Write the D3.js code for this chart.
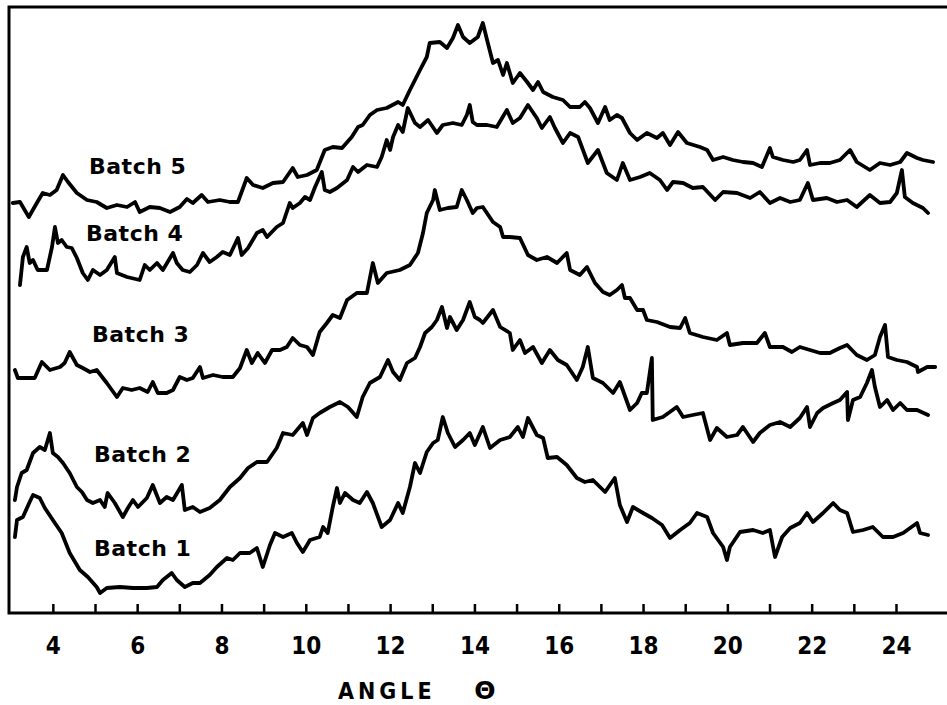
<!DOCTYPE html>
<html>
<head>
<meta charset="utf-8">
<script src="https://cdn.jsdelivr.net/npm/d3@7"></script>
<style>
  body { margin: 0; background: #fff; }
  svg { display: block; }
  .tick text { font-family: "DejaVu Sans Condensed", "DejaVu Sans", sans-serif; font-weight: bold; }
</style>
</head>
<body>
<div id="chart"></div>
<script>
// x ray diffraction traces, angle (theta) vs relative intensity (arbitrary units)
const majorTicks = [4, 6, 8, 10, 12, 14, 16, 18, 20, 22, 24];
const minorTicks = [5, 7, 9, 11, 13, 15, 17, 19, 21, 23];
const xTitle = "ANGLE";
const xSymbol = "Θ";
const batchNames = ["Batch 1", "Batch 2", "Batch 3", "Batch 4", "Batch 5"];

const batch5Angle = [3.05,3.22,3.43,3.62,3.76,3.93,4.09,4.24,4.36,4.57,4.81,5.04,5.28,5.52,5.76,5.95,6.06,6.30,6.54,6.78,7.01,7.18,7.32,7.53,7.68,7.96,8.20,8.39,8.60,8.75,8.98,9.22,9.46,9.69,9.81,10.03,10.26,10.45,10.64,10.86,11.09,11.24,11.35,11.52,11.69,11.92,12.19,12.30,12.47,12.59,12.71,12.87,12.94,13.18,13.35,13.49,13.61,13.73,13.89,14.08,14.20,14.30,14.44,14.56,14.68,14.77,14.91,15.08,15.25,15.39,15.51,15.63,15.86,16.10,16.27,16.50,16.62,16.74,16.93,17.10,17.21,17.38,17.50,17.69,17.86,18.09,18.33,18.47,18.64,18.83,19.04,19.35,19.52,19.66,19.90,20.13,20.37,20.61,20.82,21.01,21.08,21.32,21.56,21.72,21.89,21.96,22.20,22.43,22.67,22.91,23.07,23.38,23.62,23.86,24.10,24.26,24.50,24.64,24.88];
const batch5Intensity = [410,411,396,410,420,418,423,438,431,420,413,411,405,408,406,411,401,406,405,401,406,414,410,418,411,413,411,411,435,428,425,430,431,445,436,438,443,463,466,465,476,486,488,498,503,505,511,508,523,533,543,556,570,571,565,575,588,576,570,576,590,573,550,553,538,550,530,540,531,523,531,521,516,513,506,506,511,505,490,506,493,498,495,480,473,480,475,480,468,481,470,466,463,453,456,453,451,450,446,465,456,453,451,453,463,448,450,450,453,463,451,443,450,448,451,460,455,453,451];

const batch4Angle = [3.22,3.29,3.38,3.45,3.53,3.64,3.86,3.98,4.05,4.12,4.21,4.33,4.45,4.57,4.71,4.83,4.95,5.12,5.28,5.47,5.52,5.76,6.06,6.18,6.30,6.47,6.61,6.85,6.94,7.08,7.25,7.42,7.56,7.72,7.89,8.03,8.20,8.39,8.48,8.63,8.84,8.98,9.08,9.31,9.46,9.62,9.69,9.86,9.98,10.10,10.22,10.38,10.45,10.57,10.74,10.98,11.12,11.24,11.45,11.69,11.80,11.92,12.00,12.07,12.19,12.30,12.42,12.59,12.71,12.90,13.11,13.25,13.49,13.70,13.82,13.89,13.96,14.06,14.30,14.53,14.77,14.91,15.08,15.27,15.48,15.60,15.79,15.91,16.10,16.27,16.46,16.69,16.93,17.14,17.38,17.52,17.69,17.93,18.16,18.40,18.57,18.71,18.95,19.18,19.42,19.71,19.90,20.23,20.54,20.77,21.01,21.25,21.49,21.72,21.91,22.03,22.36,22.60,22.84,23.07,23.38,23.62,23.86,24.02,24.14,24.21,24.40,24.64,24.76];
const batch4Intensity = [328,356,366,350,353,343,343,366,386,370,373,366,365,355,340,333,343,338,343,356,340,336,333,348,343,350,343,360,350,343,341,348,360,351,356,361,358,375,358,365,380,383,376,386,390,410,405,410,416,413,426,441,423,421,425,433,446,441,448,446,456,473,463,476,488,481,505,490,486,493,480,488,490,488,498,508,491,488,488,486,503,490,495,508,495,485,496,485,470,480,476,450,463,440,433,450,433,436,440,433,423,431,430,425,426,413,421,420,415,421,410,415,411,413,430,413,415,411,413,406,418,410,411,420,443,416,410,405,400];

const batch3Angle = [3.10,3.17,3.38,3.57,3.74,3.93,4.17,4.28,4.40,4.57,4.71,4.88,5.04,5.28,5.52,5.66,5.87,6.06,6.25,6.37,6.49,6.70,6.85,7.01,7.18,7.32,7.49,7.56,7.80,8.03,8.27,8.44,8.60,8.72,8.86,9.03,9.20,9.39,9.55,9.69,9.86,10.03,10.17,10.33,10.50,10.64,10.81,10.98,11.21,11.45,11.59,11.71,11.92,12.23,12.47,12.66,12.78,12.87,13.02,13.06,13.18,13.37,13.58,13.70,13.82,13.96,14.06,14.20,14.44,14.61,14.68,14.84,15.08,15.27,15.48,15.72,15.96,16.19,16.27,16.50,16.67,16.86,17.05,17.21,17.38,17.50,17.57,17.69,17.86,18.00,18.09,18.33,18.64,18.88,19.00,19.11,19.42,19.75,19.99,20.06,20.37,20.70,20.89,21.01,21.32,21.53,21.72,21.96,22.20,22.43,22.67,22.84,23.07,23.31,23.50,23.62,23.74,23.81,24.02,24.26,24.50,24.52,24.74,24.93];
const batch3Intensity = [243,235,235,235,251,243,246,250,261,248,245,241,243,230,216,225,223,225,221,231,220,220,223,236,233,235,246,235,238,236,236,245,263,250,260,250,263,263,266,275,268,266,258,281,290,298,295,313,320,320,350,330,340,343,348,360,380,400,413,423,403,405,406,423,413,400,405,406,391,386,376,376,375,358,353,356,350,360,343,338,346,330,321,318,323,328,315,315,303,303,293,291,286,285,295,280,276,273,280,268,270,270,280,266,266,261,266,263,260,260,265,268,258,253,258,276,288,256,253,251,246,241,246,246];

const batch2Angle = [3.10,3.15,3.26,3.38,3.53,3.69,3.81,3.93,4.00,4.12,4.24,4.40,4.57,4.69,4.81,4.95,5.12,5.23,5.30,5.47,5.66,5.78,5.90,6.02,6.23,6.37,6.54,6.70,6.85,7.06,7.13,7.32,7.49,7.72,7.96,8.20,8.44,8.63,8.84,9.08,9.31,9.46,9.69,9.93,10.03,10.17,10.33,10.57,10.81,11.00,11.21,11.35,11.52,11.76,11.95,12.07,12.23,12.40,12.59,12.71,12.83,12.99,13.11,13.23,13.35,13.42,13.58,13.73,13.89,14.01,14.13,14.20,14.44,14.61,14.84,14.91,15.08,15.20,15.39,15.60,15.79,15.98,16.19,16.43,16.57,16.69,16.81,17.05,17.29,17.45,17.69,17.86,17.97,18.09,18.21,18.23,18.47,18.80,18.95,19.18,19.42,19.59,19.75,19.99,20.23,20.37,20.61,20.77,21.01,21.25,21.49,21.72,21.89,21.96,22.13,22.27,22.51,22.67,22.84,22.86,22.98,23.15,23.31,23.43,23.50,23.62,23.79,23.93,24.10,24.26,24.50,24.76];
const batch2Intensity = [113,126,140,143,160,166,163,180,160,156,150,140,126,121,113,110,113,106,120,110,96,105,113,106,115,128,110,116,113,128,103,106,101,105,113,126,135,145,151,151,165,180,178,190,178,195,200,206,211,206,196,216,230,236,253,241,233,250,255,266,280,286,293,306,285,296,283,293,311,296,293,290,303,286,280,263,273,260,266,250,263,253,248,233,246,266,235,230,220,231,203,210,220,220,255,193,196,206,196,198,200,173,185,176,178,186,171,180,188,191,186,195,206,186,200,205,210,213,221,193,213,216,230,243,226,206,213,203,210,203,203,198];

const batch1Angle = [3.10,3.15,3.29,3.45,3.53,3.69,3.81,4.00,4.21,4.40,4.64,4.83,5.04,5.12,5.28,5.59,5.90,6.23,6.47,6.61,6.82,6.94,7.13,7.32,7.49,7.72,7.89,8.13,8.27,8.44,8.67,8.84,8.98,9.15,9.27,9.46,9.67,9.79,9.93,10.10,10.33,10.41,10.52,10.64,10.74,10.81,10.93,11.12,11.28,11.45,11.59,11.80,12.00,12.19,12.30,12.47,12.59,12.71,12.87,13.02,13.13,13.25,13.37,13.54,13.73,13.89,14.01,14.20,14.37,14.61,14.84,15.03,15.15,15.27,15.48,15.63,15.74,15.96,16.19,16.43,16.62,16.81,17.10,17.33,17.45,17.62,17.76,18.00,18.21,18.45,18.64,18.88,19.11,19.28,19.52,19.66,19.90,19.99,20.06,20.30,20.61,20.84,21.01,21.13,21.30,21.49,21.72,21.89,22.03,22.27,22.51,22.67,22.84,22.98,23.22,23.45,23.69,23.93,24.17,24.50,24.57,24.76];
const batch1Intensity = [76,93,96,111,118,115,105,93,80,60,43,36,26,20,25,26,25,25,26,33,40,33,26,30,30,38,46,55,53,60,60,65,46,68,80,76,80,70,61,73,76,86,80,106,125,110,120,113,110,121,110,86,93,110,100,126,150,140,161,170,173,196,180,166,173,180,168,186,165,173,176,186,176,195,178,175,155,156,148,135,131,133,121,135,108,91,106,100,95,88,75,83,90,100,96,80,66,53,66,81,83,80,83,56,76,85,90,100,91,100,110,103,100,81,83,86,76,76,80,90,80,78];

const series = [
  { name: batchNames[0], angle: batch1Angle, value: batch1Intensity, lx: 94, ly: 556 },
  { name: batchNames[1], angle: batch2Angle, value: batch2Intensity, lx: 94, ly: 462 },
  { name: batchNames[2], angle: batch3Angle, value: batch3Intensity, lx: 92, ly: 342 },
  { name: batchNames[3], angle: batch4Angle, value: batch4Intensity, lx: 86, ly: 241 },
  { name: batchNames[4], angle: batch5Angle, value: batch5Intensity, lx: 89, ly: 174 }
];

const width = 947,
  height = 705,
  margin = { top: 7, right: 0, bottom: 92, left: 9 };

const svg = d3.select("#chart")
  .append("svg")
  .attr("width", width)
  .attr("height", height);

const xScale = d3.scaleLinear()
  .domain([2.96, 25.21])
  .range([margin.left, width - margin.right]);

const yScale = d3.scaleLinear()
  .domain([0, 606])
  .range([height - margin.bottom, margin.top]);

const y0 = yScale(0);

// frame: left, top and bottom only
svg.append("path")
  .attr("d", `M${width},${yScale(606)}H${xScale(2.96)}V${y0}H${width}`)
  .attr("fill", "none")
  .attr("stroke", "#000")
  .attr("stroke-width", 3);

// minor ticks, no labels
svg.append("g")
  .attr("transform", `translate(0,${y0})`)
  .call(d3.axisBottom(xScale).tickValues(minorTicks).tickSize(-9).tickFormat(""))
  .call(g => g.select(".domain").remove())
  .call(g => g.selectAll("line").attr("stroke", "#000").attr("stroke-width", 2.5));

// labelled ticks
svg.append("g")
  .attr("transform", `translate(0,${y0})`)
  .call(d3.axisBottom(xScale).tickValues(majorTicks).tickSize(-9).tickPadding(24).tickFormat(d3.format("d")))
  .call(g => g.select(".domain").remove())
  .call(g => g.selectAll("line").attr("stroke", "#000").attr("stroke-width", 2.5))
  .call(g => g.selectAll("text")
    .attr("fill", "#000")
    .style("font-size", "24px"));

// the traces
svg.selectAll(".trace")
  .data(series)
  .join("path")
  .attr("class", "trace")
  .attr("fill", "none")
  .attr("stroke", "#000")
  .attr("stroke-width", 3.8)
  .attr("stroke-linejoin", "round")
  .attr("stroke-linecap", "round")
  .attr("d", s => d3.line()
    .x(i => xScale(s.angle[i]))
    .y(i => yScale(s.value[i]))(d3.range(s.angle.length)));

svg.selectAll(".batch-label")
  .data(series)
  .join("text")
  .attr("class", "batch-label")
  .attr("x", s => s.lx)
  .attr("y", s => s.ly)
  .attr("fill", "#000")
  .style("font-family", "DejaVu Sans, sans-serif")
  .style("font-weight", "bold")
  .style("font-size", "22px")
  .style("letter-spacing", "0.5px")
  .text(s => s.name);

// axis title
svg.append("text")
  .attr("x", 338)
  .attr("y", 699)
  .attr("fill", "#000")
  .style("font-family", "DejaVu Sans Condensed, DejaVu Sans, sans-serif")
  .style("font-weight", "bold")
  .style("font-size", "23px")
  .style("letter-spacing", "4px")
  .text(xTitle);

svg.append("text")
  .attr("x", 485)
  .attr("y", 699)
  .attr("text-anchor", "middle")
  .attr("fill", "#000")
  .style("font-family", "DejaVu Sans, sans-serif")
  .style("font-weight", "bold")
  .style("font-size", "25px")
  .text(xSymbol);
</script>
</body>
</html>
